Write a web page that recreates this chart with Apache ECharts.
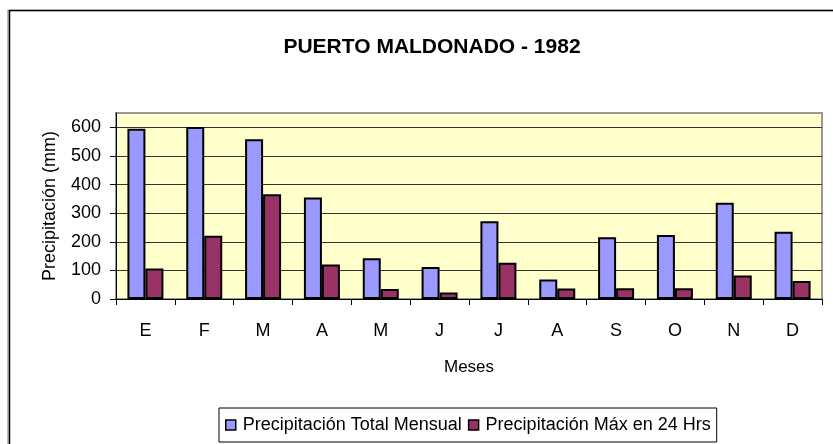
<!DOCTYPE html>
<html>
<head>
<meta charset="utf-8">
<script src="https://cdn.jsdelivr.net/npm/echarts@6/dist/echarts.min.js"></script>
<style>
  html, body { margin: 0; padding: 0; background: #fff; }
  #chart { width: 833px; height: 444px; }
</style>
</head>
<body>
<div id="chart"></div>
<script>
const months = ['E', 'F', 'M', 'A', 'M', 'J', 'J', 'A', 'S', 'O', 'N', 'D'];
const totalMensual = [595, 601, 558, 355, 142, 112, 272, 68, 216, 224, 336, 235];
const max24Hrs = [107, 221, 366, 121, 35, 23, 127, 37, 38, 38, 82, 63];
const seriesNames = ['Precipitación Total Mensual', 'Precipitación Máx en 24 Hrs'];

const font = 'Arial, "Liberation Sans", sans-serif';
const chart = echarts.init(document.getElementById('chart'));

const option = {
  backgroundColor: '#fff',
  animation: false,
  textStyle: { fontFamily: font, color: '#000' },
  title: {
    text: 'PUERTO MALDONADO - 1982',
    left: 427,
    top: 32,
    textAlign: 'center',
    textStyle: { fontFamily: font, fontSize: 21, fontWeight: 'bold', color: '#000' }
  },
  graphic: [
    {
      type: 'rect',
      shape: { x: 9.5, y: 10.5, width: 900, height: 500 },
      style: { fill: 'none', stroke: '#000', lineWidth: 1.5, shadowColor: 'rgba(0,0,0,0.35)', shadowOffsetX: -1.5 },
      z: 0
    }
  ],
  grid: {
    left: 116,
    right: 11,
    top: 113,
    bottom: 145,
    show: true,
    backgroundColor: '#FFFFCC',
    borderColor: '#999',
    borderWidth: 2
  },
  legend: {
    left: 219,
    top: 408,
    itemWidth: 10,
    itemHeight: 10,
    itemGap: 6,
    padding: [8, 6, 8, 6],
    borderColor: '#000',
    borderWidth: 1,
    icon: 'rect',
    itemStyle: { borderColor: '#000', borderWidth: 1.5 },
    textStyle: { fontFamily: font, fontSize: 18, color: '#000', padding: [0, 0, 0, 2] },
    data: seriesNames
  },
  xAxis: {
    type: 'category',
    data: months,
    name: 'Meses',
    nameLocation: 'middle',
    nameGap: 60,
    nameTextStyle: { fontFamily: font, fontSize: 17, color: '#000' },
    axisLine: { lineStyle: { color: '#000', width: 1 } },
    axisTick: { show: true, length: 6, lineStyle: { color: '#000' } },
    axisLabel: { fontFamily: font, fontSize: 18, color: '#000', margin: 23 },
    splitLine: { show: false }
  },
  yAxis: {
    type: 'value',
    min: 0,
    max: 650,
    interval: 100,
    name: 'Precipitación (mm)',
    nameLocation: 'middle',
    nameGap: 57,
    nameTextStyle: { fontFamily: font, fontSize: 18, color: '#000' },
    axisLine: { show: true, lineStyle: { color: '#000', width: 1 } },
    axisTick: { show: true, length: 6, lineStyle: { color: '#000' } },
    axisLabel: { fontFamily: font, fontSize: 18, color: '#000', margin: 15, showMaxLabel: false },
    splitLine: { show: true, showMaxLine: false, lineStyle: { color: '#333', width: 1 } }
  },
  series: [
    {
      name: seriesNames[0],
      type: 'bar',
      data: totalMensual,
      barWidth: 18,
      barGap: '0%',
      itemStyle: { color: '#9999FF', borderColor: '#000', borderWidth: 2 }
    },
    {
      name: seriesNames[1],
      type: 'bar',
      data: max24Hrs,
      barWidth: 18,
      itemStyle: { color: '#993366', borderColor: '#000', borderWidth: 2 }
    }
  ]
};

chart.setOption(option);
</script>
</body>
</html>
